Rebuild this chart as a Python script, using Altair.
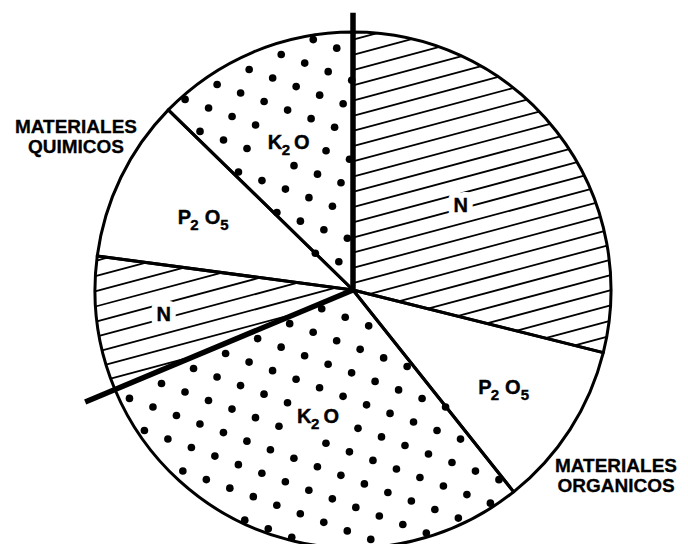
import math
import altair as alt
import pandas as pd

# ---------------- data ----------------
GROUP = ["MATERIALES ORGANICOS", "MATERIALES ORGANICOS", "MATERIALES ORGANICOS",
         "MATERIALES QUIMICOS", "MATERIALES QUIMICOS", "MATERIALES QUIMICOS"]
NUTRIENT = ["N", "P₂O₅", "K₂O", "N", "P₂O₅", "K₂O"]
SHARE = [28.9, 10.4, 29.4, 8.4, 10.2, 12.7]   # % of the pie, clockwise from 12 o'clock
GROUP_LABELS = ["MATERIALES ORGANICOS", "MATERIALES QUIMICOS"]

# ---------------- style / layout ----------------
W, H = 672, 536            # view size (px)
CX, CY = 345, 282          # pie centre in view px
R = 258                    # pie radius px
PATTERN = {"N": "hatch", "P₂O₅": "blank", "K₂O": "dots"}
# how each nutrient name is typeset: (glyphs, x offset px, subscript?)
TYPESET = {
    "N": [("N", 0, False)],
    "K₂O": [("K", -16, False), ("2", -5, True), ("O", 11, False)],
    "P₂O₅": [("P", -20, False), ("2", -10, True), ("O", 8, False), ("5", 20, True)],
}
SUB_DROP = 7               # px the subscripts sit lower
LABEL_R = [0.53, 0.70, 0.51, 0.74, 0.64, 0.62]   # label distance from centre (fraction of radius)
SEP_EXT = [1.075, 1.125]                          # how far the group separators stick out
HATCH_DEG = 15.0
HATCH_SP = 14.7 / R
HATCH_PHASE = 0.1965
DOT_SP = 25.0 / R
DOT_DEG = -20.0
DOT_ORIGIN = (-168.0 / R, -102.0 / R)
CLEAR_X, CLEAR_Y = 10.0, 12.0   # px kept free of dots around a label
FONT = "Liberation Sans"

xs = alt.Scale(domain=[-CX / R, (W - CX) / R], nice=False, zero=False)
ys = alt.Scale(domain=[-(H - CY) / R, CY / R], nice=False, zero=False)

# slice angles (compass, clockwise from north), derived from the shares
total = sum(SHARE)
starts, ends = [], []
acc = 0.0
for s in SHARE:
    starts.append(acc / total * 2 * math.pi)
    acc += s
    ends.append(acc / total * 2 * math.pi)


def clip_line(q, u, a0, a1):
    d2 = q[0] ** 2 + q[1] ** 2
    if d2 >= 1:
        return None
    h = math.sqrt(1 - d2)
    tmin, tmax = -h, h
    for ang, sign in ((a0, -1.0), (a1, 1.0)):
        e = (math.sin(ang), math.cos(ang))
        c0 = e[0] * q[1] - e[1] * q[0]
        cu = e[0] * u[1] - e[1] * u[0]
        A, B = sign * c0, sign * cu
        if abs(B) < 1e-12:
            if A < 0:
                return None
        elif B > 0:
            tmin = max(tmin, -A / B)
        else:
            tmax = min(tmax, -A / B)
    if tmax - tmin < 1e-4:
        return None
    return (q[0] + tmin * u[0], q[1] + tmin * u[1], q[0] + tmax * u[0], q[1] + tmax * u[1])


def in_sector(px, py, a0, a1):
    phi = math.atan2(px, py) % (2 * math.pi)
    return a0 <= phi <= a1


# label anchor positions
anchors = []
for i, nut in enumerate(NUTRIENT):
    m = (starts[i] + ends[i]) / 2
    anchors.append((LABEL_R[i] * math.sin(m), LABEL_R[i] * math.cos(m)))

hatch_rows, dot_rows = [], []
hu = (math.cos(math.radians(HATCH_DEG)), math.sin(math.radians(HATCH_DEG)))
hn = (-hu[1], hu[0])
da = (DOT_SP * math.cos(math.radians(DOT_DEG)), DOT_SP * math.sin(math.radians(DOT_DEG)))
db = (-da[1], da[0])
for i, nut in enumerate(NUTRIENT):
    a0, a1 = starts[i], ends[i]
    if PATTERN[nut] == "hatch":
        for k in range(-80, 81):
            d = HATCH_PHASE + k * HATCH_SP
            seg = clip_line((d * hn[0], d * hn[1]), hu, a0, a1)
            if seg:
                hatch_rows.append(dict(x=seg[0], y=seg[1], x2=seg[2], y2=seg[3]))
    elif PATTERN[nut] == "dots":
        lx, ly = anchors[i]
        offs = [o for _, o, _ in TYPESET[nut]]
        bx0, bx1 = lx + (min(offs) - CLEAR_X) / R, lx + (max(offs) + CLEAR_X) / R
        by0, by1 = ly - (SUB_DROP + CLEAR_Y) / R, ly + CLEAR_Y / R
        for a in range(-50, 51):
            for b in range(-50, 51):
                px = DOT_ORIGIN[0] + a * da[0] + b * db[0]
                py = DOT_ORIGIN[1] + a * da[1] + b * db[1]
                if not (0.02 ** 2 < px * px + py * py <= 0.995 ** 2 and in_sector(px, py, a0, a1)):
                    continue
                if bx0 <= px <= bx1 and by0 <= py <= by1:
                    continue
                dot_rows.append(dict(x=px, y=py))

pie_df = pd.DataFrame({"idx": list(range(len(SHARE))), "group": GROUP,
                       "nutrient": NUTRIENT, "share": SHARE})

tok_rows = []
for i, nut in enumerate(NUTRIENT):
    lx, ly = anchors[i]
    for glyph, off, sub in TYPESET[nut]:
        tok_rows.append(dict(x=lx + off / R, y=ly - (SUB_DROP / R if sub else 0.0),
                             text=glyph, sub=sub, nutrient=nut))
tok_df = pd.DataFrame(tok_rows)
main_df = tok_df[~tok_df["sub"]]
sub_df = tok_df[tok_df["sub"]]

# group separators: at the first slice of each group
sep_rows = []
seen = []
for i, g in enumerate(GROUP):
    if g not in seen:
        seen.append(g)
        ext = SEP_EXT[len(seen) - 1]
        sep_rows.append(dict(x=0.0, y=0.0, x2=ext * math.sin(starts[i]), y2=ext * math.cos(starts[i])))
sep_df = pd.DataFrame(sep_rows)

# ---------------- layers ----------------
arc_base = alt.Chart(pie_df).encode(
    theta=alt.Theta("share:Q", stack=True),
    order=alt.Order("idx:Q"),
)
fill_layer = arc_base.mark_arc(radius=R, x=CX, y=CY, fill="white", strokeWidth=0)
outline_layer = arc_base.mark_arc(radius=R, x=CX, y=CY, fillOpacity=0, stroke="black",
                                  strokeWidth=3, strokeJoin="round")


def X(f):
    return alt.X(f, scale=xs, axis=None)


def Y(f):
    return alt.Y(f, scale=ys, axis=None)


hatch_layer = alt.Chart(pd.DataFrame(hatch_rows)).mark_rule(color="black", strokeWidth=1.8).encode(
    x=X("x:Q"), y=Y("y:Q"), x2="x2:Q", y2="y2:Q")
dot_layer = alt.Chart(pd.DataFrame(dot_rows)).mark_circle(color="black", size=58, opacity=1).encode(
    x=X("x:Q"), y=Y("y:Q"))
sep_layer = alt.Chart(sep_df).mark_rule(color="black", strokeWidth=5.5).encode(
    x=X("x:Q"), y=Y("y:Q"), x2="x2:Q", y2="y2:Q")


def text_layer(df, size, halo):
    kw = dict(font=FONT, fontWeight="bold", fontSize=size, align="center", baseline="middle")
    if halo:
        mark = alt.Chart(df).mark_text(fill="white", stroke="white", strokeWidth=12,
                                       strokeJoin="round", **kw)
    else:
        mark = alt.Chart(df).mark_text(color="black", stroke="black", strokeWidth=0.4, **kw)
    return mark.encode(x=X("x:Q"), y=Y("y:Q"), text="text:N")


grp_df = pd.DataFrame({"label": GROUP_LABELS, "px": [608, 68], "py": [464, 125]})
group_layer = alt.Chart(grp_df).mark_text(font=FONT, fontWeight="bold", fontSize=19, color="black",
                                          stroke="black", strokeWidth=0.3,
                                          align="center", baseline="alphabetic", lineBreak=" ",
                                          lineHeight=20).encode(
    x=alt.X("px:Q", scale=None, axis=None), y=alt.Y("py:Q", scale=None, axis=None), text="label:N")

chart = alt.layer(
    fill_layer, hatch_layer, dot_layer, outline_layer, sep_layer,
    text_layer(main_df, 20, True), text_layer(sub_df, 15, True),
    text_layer(main_df, 20, False), text_layer(sub_df, 15, False),
    group_layer
).resolve_scale(x="independent", y="independent").properties(
    width=W, height=H, padding=0, autosize=alt.AutoSizeParams(type="none"), background="white"
).configure_view(strokeWidth=0)

chart.save("out.html", embed_options={"renderer": "svg", "actions": False})
